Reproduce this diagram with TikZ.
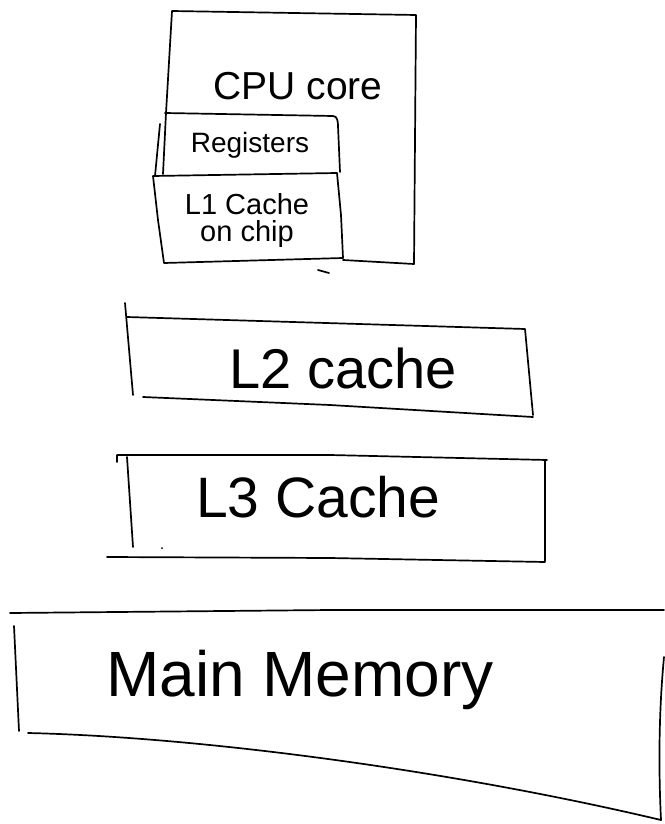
\documentclass[tikz,border=0pt]{standalone}
\usepackage{fontspec}
\setmainfont{Liberation Sans}
\begin{document}
\begin{tikzpicture}[x=1pt,y=-1pt,
  pen/.style={draw=black,line width=1.7pt,line join=round,line cap=round},
  lbl/.style={inner sep=0pt,align=center,text=black}]
\useasboundingbox (0,0) rectangle (664,824);

% CPU core outline
\draw[pen] (166,113) -- (172,11) -- (416,15) -- (414,264) -- (343,260);
\draw[pen] (166,113) -- (163,174);
\draw[pen] (160,124) -- (155,176);
% Registers
\draw[pen] (165,113) -- (333,116) to[out=0,in=90] (338,126) -- (340,172);
% L1 cache
\draw[pen] (153,176) -- (337,173) -- (341,215) -- (343,258) -- (164,263) -- (158,220) -- cycle;
\draw[pen] (318,270) -- (329,273);

% L2 cache
\draw[pen] (125,303) -- (133,395);
\draw[pen] (127,317) -- (525,329) -- (533,415);
\draw[pen] (143,397) -- (330,405) -- (533,417);

% L3 cache
\draw[pen] (117,462) -- (117,455) -- (330,455) -- (547,460);
\draw[pen] (127,457) -- (133,547);
\draw[pen] (545,460) -- (545,561);
\draw[pen] (107,557) -- (330,558) -- (545,562);
\fill (162,548) circle (1pt);

% Main memory
\draw[pen] (10,613) -- (330,610) -- (664,610);
\draw[pen] (14,626) -- (19,731);
\draw[pen] (28,733) .. controls (200,737) and (450,770) .. (661,820);
\draw[pen] (664,657) .. controls (658,720) and (659,780) .. (661,820);

% Labels
\node[lbl,font=\fontsize{39}{39}\selectfont] (cpu) at (298,86) {CPU core};
\node[lbl,font=\fontsize{28}{28}\selectfont] (reg) at (250,145) {Registers};
\node[lbl,font=\fontsize{29}{27}\selectfont] (l1) at (247,221) {L1 Cache\\on chip};
\node[lbl,font=\fontsize{56}{56}\selectfont] (l2) at (343,368) {L2 cache};
\node[lbl,font=\fontsize{57}{57}\selectfont] (l3) at (318,497) {L3 Cache};
\node[lbl,font=\fontsize{64}{64}\selectfont] (mem) at (300,680) {Main Memory};
\end{tikzpicture}
\end{document}
